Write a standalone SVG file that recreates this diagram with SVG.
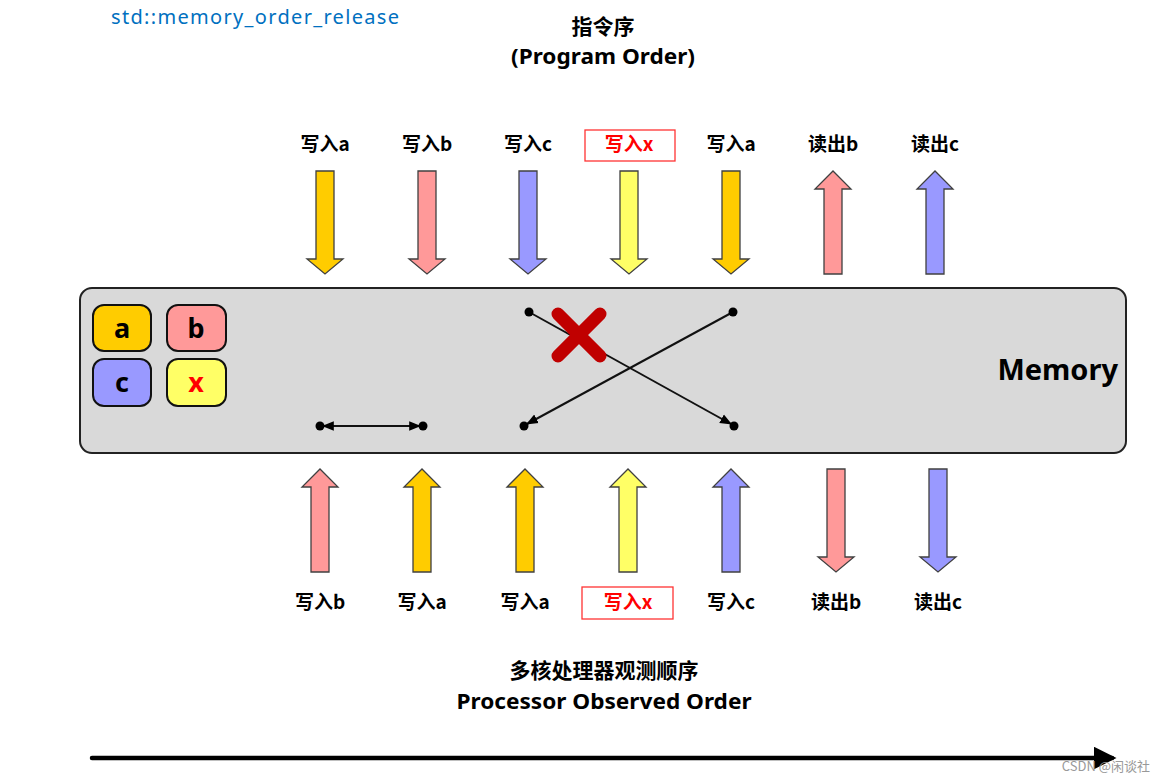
<svg xmlns="http://www.w3.org/2000/svg" width="1165" height="783" viewBox="0 0 1165 783">
<defs>
<style>
.lbl{font-family:"Noto Sans CJK SC","Noto Sans",sans-serif;font-weight:bold;font-size:19px;fill:#000;text-anchor:middle}
.red{fill:#ff0000}
.arr{stroke:#404040;stroke-width:1.3}
.ya{fill:#ffcc00}.pk{fill:#ff9999}.bl{fill:#9999ff}.yl{fill:#ffff66}
.tag{stroke:#111;stroke-width:2}
.tagt{font-family:"Noto Sans","Open Sans",sans-serif;font-weight:bold;font-size:27px;text-anchor:middle}
.ln{stroke:#111;stroke-width:2;fill:none}
.dot{fill:#000}
.ttl{font-family:"Noto Sans CJK SC","Noto Sans",sans-serif;font-weight:bold;font-size:21px;text-anchor:middle;fill:#000}
.ttle{font-family:"Noto Sans","Open Sans",sans-serif;font-weight:bold;font-size:21px;text-anchor:middle;fill:#000}
</style>
<marker id="ah" viewBox="0 0 10 10" refX="9" refY="5" markerWidth="6" markerHeight="6" orient="auto-start-reverse"><path d="M0,1 L10,5 L0,9 z" fill="#000"/></marker>
<marker id="bigah" viewBox="0 0 10 10" refX="8" refY="5" markerWidth="5" markerHeight="5" orient="auto"><path d="M0,0 L10,5 L0,10 z" fill="#000"/></marker>
<path id="down" d="M-9,0 H9 V88 H18 L0,103 L-18,88 H-9 Z"/>
<path id="up" d="M-9,103 H9 V18 H18 L0,0 L-18,18 H-9 Z"/>
</defs>
<text x="111" y="24" font-family="Noto Sans, Open Sans, sans-serif" font-size="20" fill="#0070c0" textLength="288">std::memory_order_release</text>
<text class="ttl" x="603" y="34">指令序</text>
<text class="ttle" x="603" y="64" textLength="184" lengthAdjust="spacingAndGlyphs">(Program Order)</text>

<g id="memory">
<rect x="80" y="288" width="1046" height="165" rx="12" fill="#d9d9d9" stroke="#222" stroke-width="2"/>
<text x="1118" y="380" font-family="Noto Sans, Open Sans, sans-serif" font-weight="bold" font-size="29" text-anchor="end">Memory</text>
</g>
<g id="var-a"><rect class="tag ya" x="93" y="305" width="58" height="46" rx="11"/><text class="tagt" x="122" y="338">a</text></g>
<g id="var-b"><rect class="tag pk" x="167" y="305" width="59" height="46" rx="11"/><text class="tagt" x="196" y="338">b</text></g>
<g id="var-c"><rect class="tag bl" x="93" y="359" width="58" height="47" rx="11"/><text class="tagt" x="122" y="392">c</text></g>
<g id="var-x"><rect class="tag yl" x="167" y="359" width="59" height="47" rx="11"/><text class="tagt red" x="196" y="392">x</text></g>

<g id="top-ops">
<g id="t1"><text class="lbl" x="325" y="151">写入a</text><use href="#down" class="arr ya" x="325" y="171"/></g>
<g id="t2"><text class="lbl" x="427" y="151">写入b</text><use href="#down" class="arr pk" x="427" y="171"/></g>
<g id="t3"><text class="lbl" x="528" y="151">写入c</text><use href="#down" class="arr bl" x="528" y="171"/></g>
<g id="t4"><rect x="585" y="130" width="90" height="31" fill="none" stroke="#ff3333" stroke-width="1.3"/><text class="lbl red" x="629" y="151">写入x</text><use href="#down" class="arr yl" x="629" y="171"/></g>
<g id="t5"><text class="lbl" x="731" y="151">写入a</text><use href="#down" class="arr ya" x="731" y="171"/></g>
<g id="t6"><text class="lbl" x="833" y="151">读出b</text><use href="#up" class="arr pk" x="833" y="171"/></g>
<g id="t7"><text class="lbl" x="935" y="151">读出c</text><use href="#up" class="arr bl" x="935" y="171"/></g>
</g>

<g id="bottom-ops">
<g id="b1"><use href="#up" class="arr pk" x="320" y="469"/><text class="lbl" x="320" y="609">写入b</text></g>
<g id="b2"><use href="#up" class="arr ya" x="422" y="469"/><text class="lbl" x="422" y="609">写入a</text></g>
<g id="b3"><use href="#up" class="arr ya" x="525" y="469"/><text class="lbl" x="525" y="609">写入a</text></g>
<g id="b4"><use href="#up" class="arr yl" x="628" y="469"/><rect x="582" y="587" width="91" height="32" fill="none" stroke="#ff3333" stroke-width="1.3"/><text class="lbl red" x="628" y="609">写入x</text></g>
<g id="b5"><use href="#up" class="arr bl" x="731" y="469"/><text class="lbl" x="731" y="609">写入c</text></g>
<g id="b6"><use href="#down" class="arr pk" x="836" y="469"/><text class="lbl" x="836" y="609">读出b</text></g>
<g id="b7"><use href="#down" class="arr bl" x="938" y="469"/><text class="lbl" x="938" y="609">读出c</text></g>
</g>

<g id="connectors">
<line class="ln" x1="323" y1="426" x2="420" y2="426" marker-start="url(#ah)" marker-end="url(#ah)"/>
<line class="ln" x1="529" y1="312" x2="731" y2="424" marker-end="url(#ah)"/>
<line class="ln" x1="733" y1="312" x2="527" y2="424" marker-end="url(#ah)"/>
<circle class="dot" cx="320" cy="426" r="4.5"/><circle class="dot" cx="423" cy="426" r="4.5"/>
<circle class="dot" cx="529" cy="312" r="4.5"/><circle class="dot" cx="733" cy="312" r="4.5"/>
<circle class="dot" cx="524" cy="426" r="4.5"/><circle class="dot" cx="734" cy="426" r="4.5"/>
<path d="M558,314 L600,356 M600,314 L558,356" stroke="#c00000" stroke-width="13" stroke-linecap="round"/>
<line x1="92" y1="758" x2="1112" y2="758" stroke="#000" stroke-width="4.5" stroke-linecap="round" marker-end="url(#bigah)"/>
</g>

<text class="ttl" x="604" y="678">多核处理器观测顺序</text>
<text class="ttle" x="604" y="709" textLength="295" lengthAdjust="spacingAndGlyphs">Processor Observed Order</text>
<text x="1150" y="771" font-family="Noto Sans CJK SC, sans-serif" font-size="13" fill="#999" text-anchor="end">CSDN @闲谈社</text>
</svg>
